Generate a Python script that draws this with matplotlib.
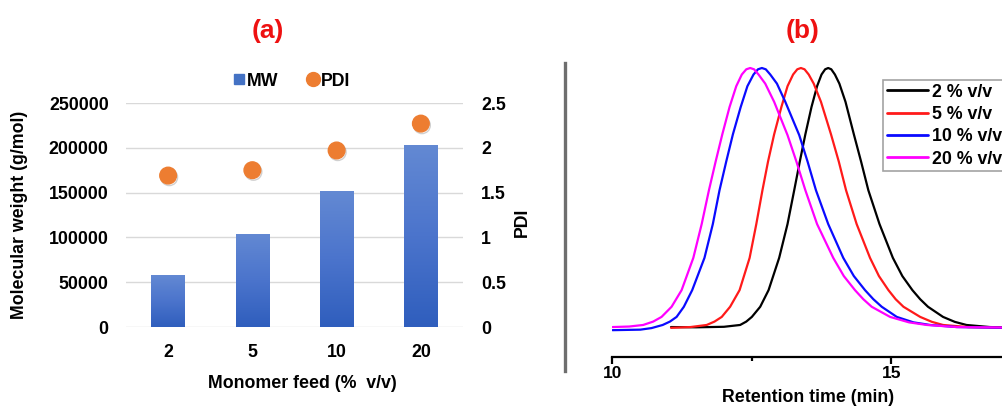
import numpy as np
import matplotlib
matplotlib.use("Agg")
import matplotlib.pyplot as plt
from matplotlib.colors import LinearSegmentedColormap
from matplotlib.lines import Line2D
import matplotlib.patheffects as pe

plt.rcParams["font.family"] = ["Liberation Sans", "DejaVu Sans"]
plt.rcParams["font.weight"] = "bold"

# ---- (a) molecular weight and dispersity vs monomer feed ----
feed_labels = ["2", "5", "10", "20"]
mw_values = [58000, 104000, 151500, 203000]
pdi_values = [1.69, 1.75, 1.97, 2.27]
mw_ticks = [0, 50000, 100000, 150000, 200000, 250000]
pdi_ticks = [0, 0.5, 1, 1.5, 2, 2.5]
pdi_ticklabels = ["0", "0.5", "1", "1.5", "2", "2.5"]

# ---- (b) SEC traces (normalised detector response) ----
t_2 = [11.05, 11.5, 12.0, 12.29, 12.40, 12.50, 12.65, 12.80, 12.99, 13.14, 13.26,
       13.36, 13.46, 13.57, 13.67, 13.75, 13.815, 13.87, 13.925, 13.99, 14.07,
       14.18, 14.33, 14.46, 14.59, 14.79, 15.03, 15.20, 15.38, 15.52, 15.66,
       15.93, 16.14, 16.35, 16.77, 17.1]
i_2 = [0.004, 0.003, 0.005, 0.012, 0.025, 0.043, 0.082, 0.146, 0.27, 0.40, 0.53,
       0.64, 0.745, 0.85, 0.93, 0.975, 0.995, 1.0, 0.995, 0.975, 0.94,
       0.87, 0.745, 0.64, 0.53, 0.40, 0.27, 0.20, 0.146, 0.111, 0.082,
       0.043, 0.024, 0.012, 0.004, 0.002]

t_5 = [11.05, 11.40, 11.69, 11.83, 11.96, 12.11, 12.28, 12.46, 12.58, 12.69, 12.79,
       12.90, 13.03, 13.14, 13.24, 13.315, 13.38, 13.445, 13.52, 13.61, 13.74,
       13.92, 14.06, 14.19, 14.38, 14.62, 14.78, 14.95, 15.08, 15.22, 15.52,
       15.73, 15.93, 16.38, 17.1]
i_5 = [0.001, 0.004, 0.012, 0.025, 0.043, 0.082, 0.146, 0.27, 0.40, 0.53, 0.64,
       0.745, 0.85, 0.93, 0.975, 0.995, 1.0, 0.995, 0.975, 0.94, 0.87,
       0.745, 0.64, 0.53, 0.40, 0.27, 0.20, 0.146, 0.111, 0.082, 0.043,
       0.024, 0.012, 0.004, 0.001]

t_10 = [10.0, 10.5, 10.70, 10.90, 11.03, 11.15, 11.28, 11.43, 11.65, 11.80, 11.92,
        12.04, 12.16, 12.30, 12.42, 12.53, 12.61, 12.68, 12.75, 12.83, 12.95,
        13.10, 13.35, 13.50, 13.65, 13.87, 14.14, 14.33, 14.53, 14.68, 14.83,
        15.10, 15.40, 15.70, 16.18, 17.1]
i_10 = [-0.008, -0.006, 0.0, 0.012, 0.025, 0.043, 0.082, 0.146, 0.27, 0.40, 0.53,
        0.64, 0.745, 0.85, 0.93, 0.975, 0.995, 1.0, 0.995, 0.975, 0.94,
        0.87, 0.742, 0.64, 0.53, 0.40, 0.27, 0.20, 0.146, 0.111, 0.082,
        0.043, 0.022, 0.012, 0.004, 0.001]

t_20 = [10.0, 10.3, 10.55, 10.73, 10.88, 11.06, 11.24, 11.45, 11.60, 11.73, 11.85,
        11.97, 12.10, 12.22, 12.32, 12.40, 12.47, 12.54, 12.62, 12.74, 12.90,
        13.14, 13.30, 13.46, 13.67, 13.96, 14.15, 14.35, 14.50, 14.65, 14.98,
        15.32, 15.64, 16.17, 17.1]
i_20 = [0.004, 0.006, 0.012, 0.025, 0.043, 0.082, 0.146, 0.27, 0.40, 0.53, 0.64,
        0.745, 0.85, 0.93, 0.975, 0.995, 1.0, 0.995, 0.975, 0.94, 0.87,
        0.742, 0.64, 0.53, 0.40, 0.27, 0.20, 0.146, 0.111, 0.082, 0.043,
        0.022, 0.012, 0.004, 0.002]

trace_labels = ["2 % v/v", "5 % v/v", "10 % v/v", "20 % v/v"]
trace_colors = ["black", "#ff1a1a", "#0a0aff", "#ff00ff"]
t_ticks = [10, 15]

W, H = 1003, 407
fig = plt.figure(figsize=(W / 100, H / 100), dpi=100)


def fx(px):
    return px / W


def fy(py):
    return 1 - py / H


FS = 12.8
RED = "#ee1111"

# ---------------- panel (a) ----------------
ax = fig.add_axes([fx(126), fy(327), fx(463) - fx(126), fy(103) - fy(327)])
x = np.arange(len(feed_labels))
bar_w = 0.4
grad = LinearSegmentedColormap.from_list("bar", ["#2f5ebd", "#4b74cc", "#6389d3"])
bars = ax.bar(x, mw_values, width=bar_w, color="none", edgecolor="none", zorder=3)
g = np.linspace(0, 1, 256).reshape(-1, 1)
for rect in bars:
    x0, w, h = rect.get_x(), rect.get_width(), rect.get_height()
    im = ax.imshow(g, extent=[x0, x0 + w, 0, h], origin="lower", cmap=grad,
                   aspect="auto", zorder=3)
    im.set_clip_path(rect)
ax.set_xlim(-0.5, len(feed_labels) - 0.5)
ax.set_ylim(0, 250000)
ax.set_yticks(mw_ticks)
ax.set_yticklabels([str(v) for v in mw_ticks])
ax.set_xticks(x)
ax.set_xticklabels(feed_labels)
ax.grid(axis="y", color="#d9d9d9", linewidth=1.0, zorder=0)
ax.set_axisbelow(True)
for s in ax.spines.values():
    s.set_visible(False)
ax.tick_params(axis="both", length=0, labelsize=FS)
ax.tick_params(axis="y", pad=12.5)
ax.tick_params(axis="x", pad=12)

ax2 = ax.twinx()
ax2.set_ylim(0, 2.5)
ax2.set_yticks(pdi_ticks)
ax2.set_yticklabels(pdi_ticklabels)
for s in ax2.spines.values():
    s.set_visible(False)
ax2.tick_params(axis="y", length=0, labelsize=FS, pad=13)
ax2.plot(x, pdi_values, linestyle="none", marker="o", markersize=12,
         color="#ed7d31", zorder=5,
         path_effects=[pe.SimpleLineShadow(offset=(0.8, -1.2), alpha=0.25,
                                           shadow_color="#444444"),
                       pe.Normal()])

fig.text(fx(20), fy(215), "Molecular weight (g/mol)", rotation=90, ha="center",
         va="center", fontsize=FS, fontweight="bold")
fig.text(fx(522), fy(222), "PDI", rotation=90, ha="center", va="center",
         fontsize=FS, fontweight="bold")
fig.text(fx(302.5), fy(383), "Monomer feed (%  v/v)", ha="center", va="center",
         fontsize=FS, fontweight="bold")
fig.text(fx(268), fy(31), "(a)", ha="center", va="center", fontsize=19,
         fontweight="bold", color=RED)

leg_handles = [
    Line2D([], [], linestyle="none", marker="s", markersize=7, color="#4472c4"),
    Line2D([], [], linestyle="none", marker="o", markersize=10, color="#ed7d31"),
]
fig.legend(leg_handles, ["MW", "PDI"], ncol=2, frameon=False, loc="center",
           bbox_to_anchor=(fx(292), fy(81)), fontsize=FS, handlelength=0.6,
           handletextpad=0.15, columnspacing=1.6, borderaxespad=0)

# ---------------- panel (b) ----------------
bx = fig.add_axes([fx(612.5), fy(356.7), fx(W) - fx(612.5), fy(60) - fy(356.7)])
traces = [(t_2, i_2), (t_5, i_5), (t_10, i_10), (t_20, i_20)]
for (tt, ii), lab, col in zip(traces, trace_labels, trace_colors):
    bx.plot(tt, ii, color=col, linewidth=1.6, label=lab,
            solid_joinstyle="round", solid_capstyle="round")
bx.set_xlim(10, 10 + (W - 612.5) / 55.74)
bx.set_ylim(-0.11, (328 - 60) / 260)
bx.set_xticks(t_ticks)
bx.set_xticklabels([str(v) for v in t_ticks])
bx.set_xticks([12.5], minor=True)
bx.set_yticks([])
for k in ("top", "right", "left"):
    bx.spines[k].set_visible(False)
bx.spines["bottom"].set_linewidth(1.6)
bx.tick_params(axis="x", which="major", length=5, width=1.6, labelsize=12.5, pad=2)
bx.tick_params(axis="x", which="minor", length=3, width=1.6)
bx.patch.set_alpha(0)
fig.text(fx(808), fy(398), "Retention time (min)", ha="center", va="center",
         fontsize=FS, fontweight="bold")
fig.text(fx(803), fy(31), "(b)", ha="center", va="center", fontsize=19,
         fontweight="bold", color=RED)

leg = bx.legend(loc="upper left", bbox_to_anchor=(fx(883.3), fy(80)),
                bbox_transform=fig.transFigure, fontsize=FS, frameon=True,
                fancybox=False, edgecolor="#8c8c8c", borderaxespad=0,
                borderpad=0.2, labelspacing=0.3, handlelength=2.3,
                handletextpad=0.25)
leg.get_frame().set_linewidth(1.2)
for ln in leg.get_lines():
    ln.set_linewidth(2.0)

# separator between the panels
fig.add_artist(Line2D([fx(565), fx(565)], [fy(63), fy(371)], color="#6e6e6e",
                      linewidth=2.4, transform=fig.transFigure))

fig.savefig("out.png", dpi=100)
